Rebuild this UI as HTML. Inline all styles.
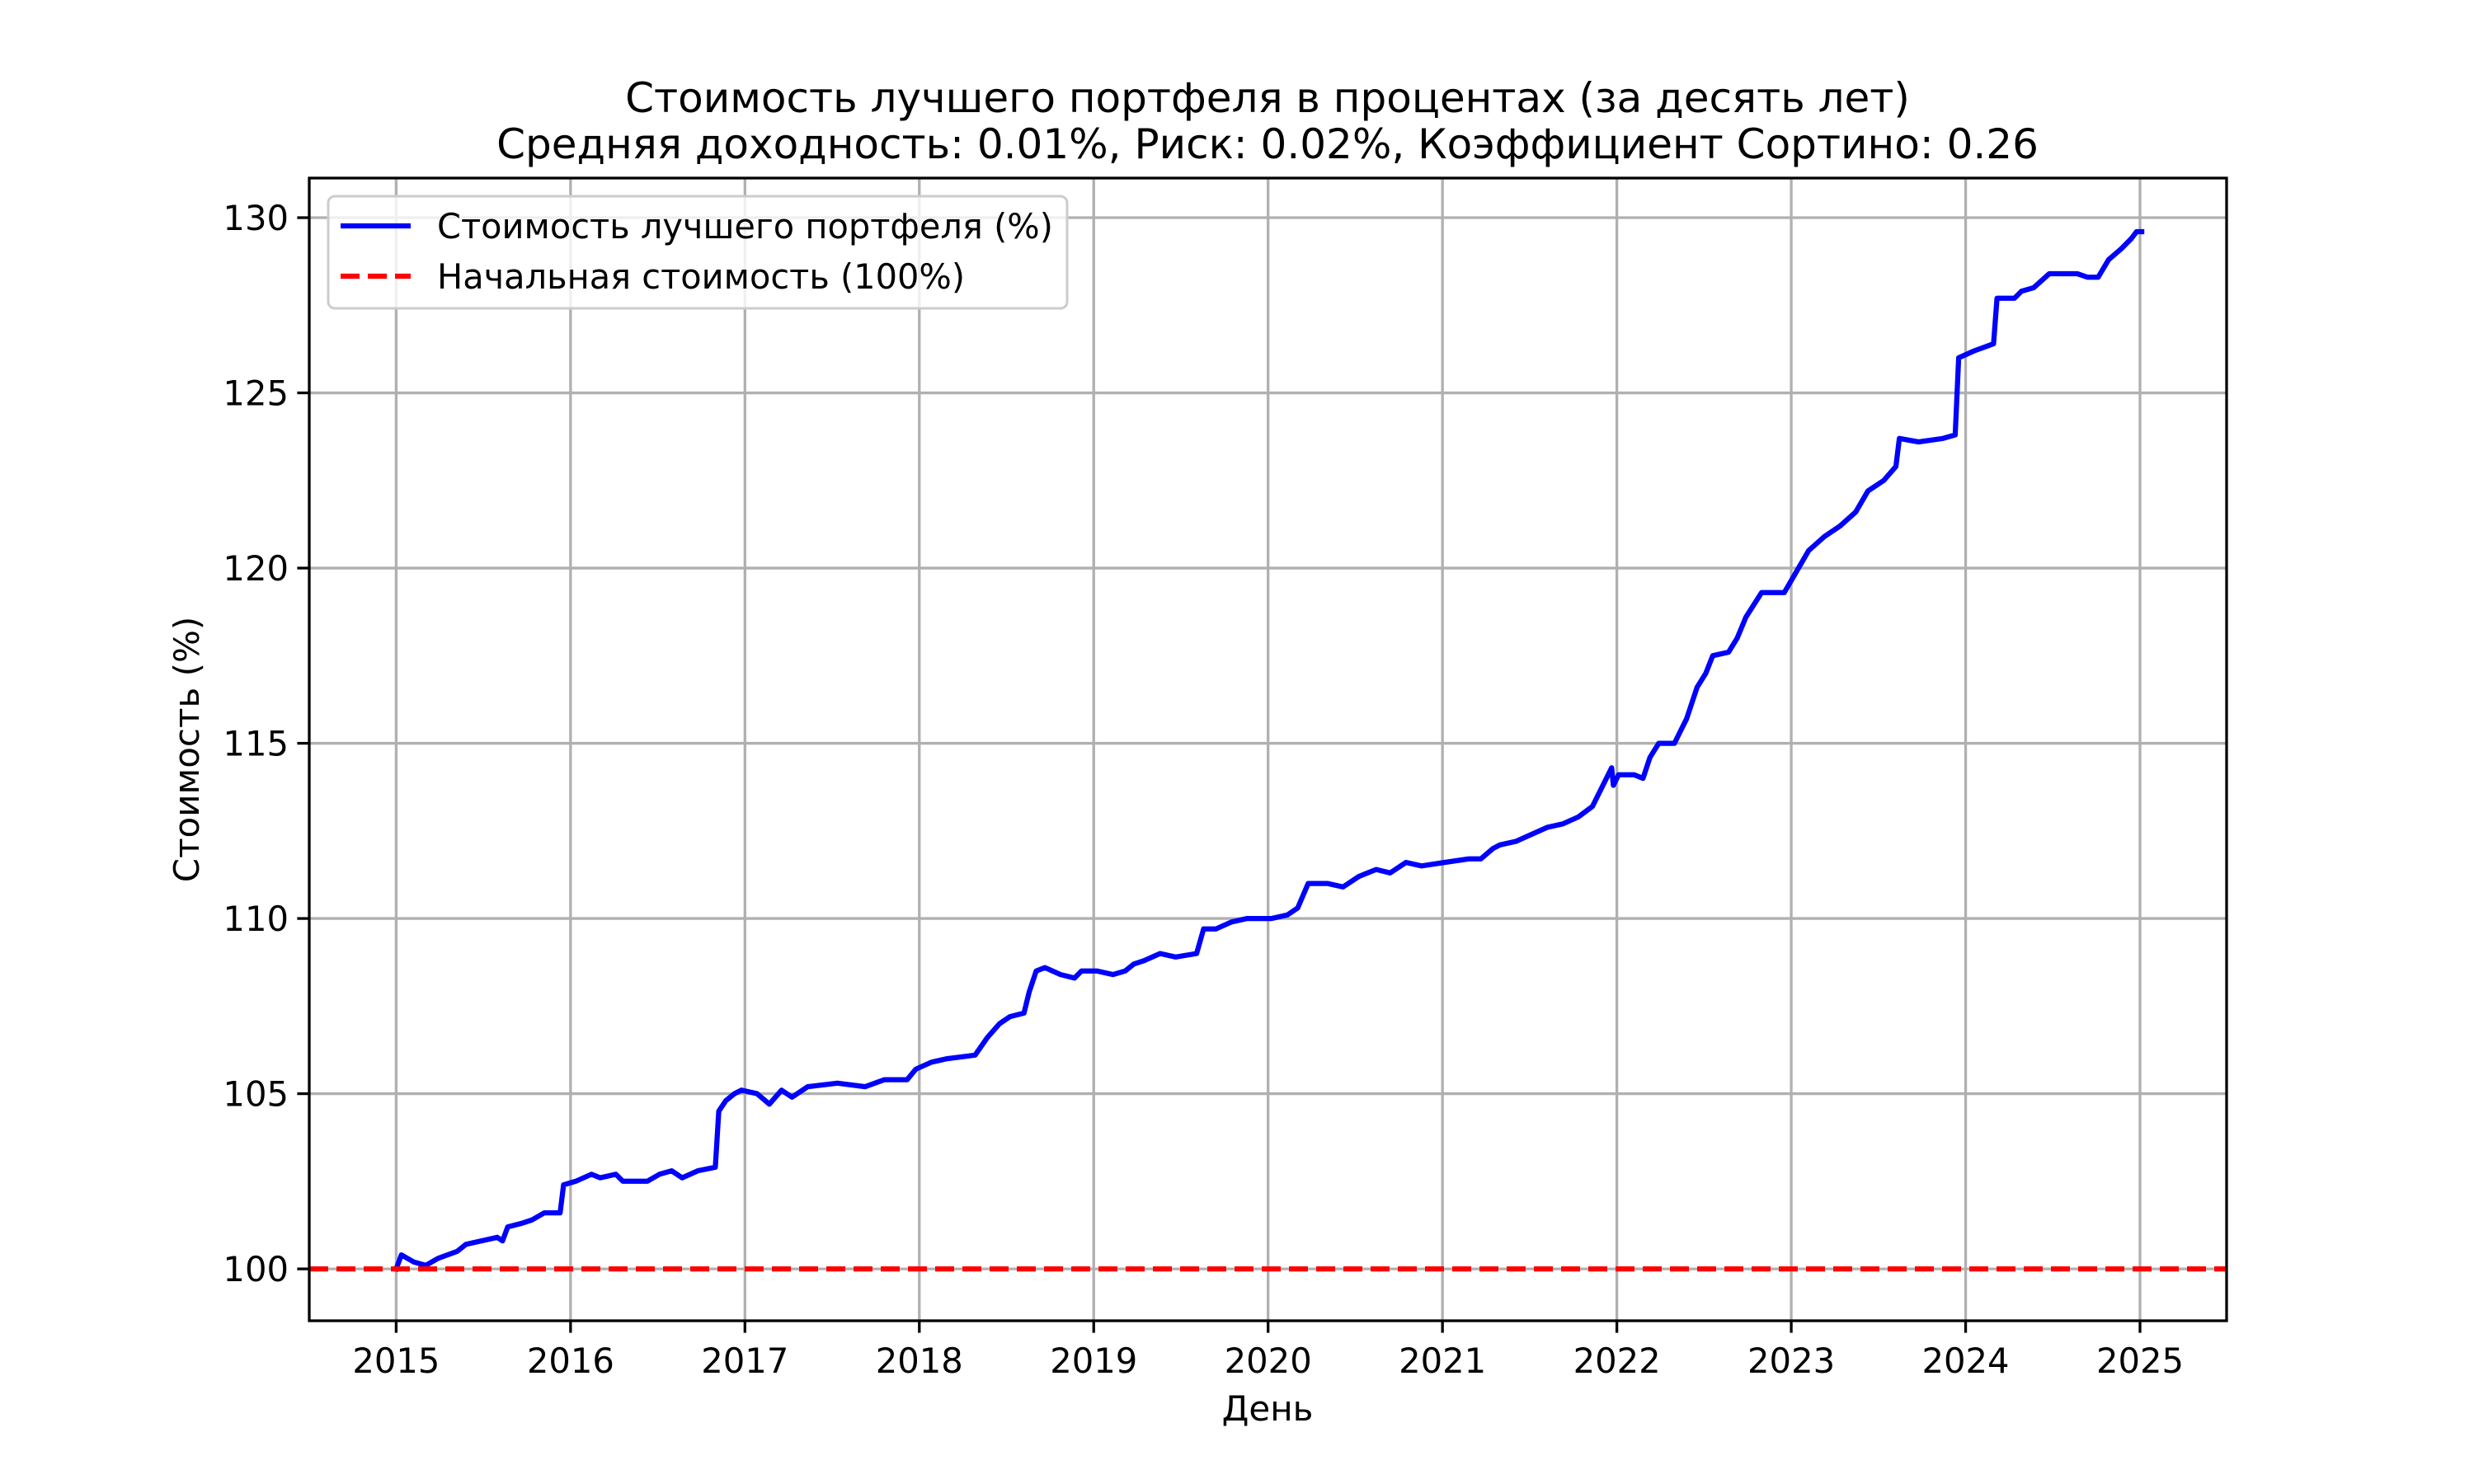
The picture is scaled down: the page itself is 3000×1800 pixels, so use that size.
<!DOCTYPE html>
<html><head><meta charset="utf-8"><style>
html,body{margin:0;padding:0;background:#fff}
svg{display:block}
text{font-family:"DejaVu Sans","Liberation Sans",sans-serif;fill:#000}
</style></head><body>
<svg id="chart" width="3000" height="1800" viewBox="0 0 3000 1800" xmlns="http://www.w3.org/2000/svg">
<rect width="3000" height="1800" fill="#fff"/>
<text x="1537" y="136" font-size="50" text-anchor="middle">Стоимость лучшего портфеля в процентах (за десять лет)</text>
<text x="1537" y="192" font-size="50" text-anchor="middle">Средняя доходность: 0.01%, Риск: 0.02%, Коэффициент Сортино: 0.26</text>
<g id="grid"></g>
<g id="series"></g>
<rect x="375" y="216" width="2325" height="1386" fill="none" stroke="#000" stroke-width="3.3"/>
<g id="ticks"></g>
<text x="1537" y="1723" font-size="42" text-anchor="middle">День</text>
<text x="0" y="0" font-size="42" text-anchor="middle" transform="translate(241,909) rotate(-90)">Стоимость (%)</text>
<g>
<rect x="398" y="238" width="896" height="136" rx="8" fill="#fff" fill-opacity="0.8" stroke="#ccc" stroke-width="3"/>
<line x1="413" y1="274" x2="498" y2="274" stroke="#0000ff" stroke-width="6.25"/>
<text x="530" y="289" font-size="41.5">Стоимость лучшего портфеля (%)</text>
<line x1="413" y1="335" x2="498" y2="335" stroke="#ff0000" stroke-width="6.25" stroke-dasharray="23,10"/>
<text x="530" y="350" font-size="41.5">Начальная стоимость (100%)</text>
</g>
</svg>
<script>
const yearOffsets=[0.00,0.03,0.10,0.17,0.24,0.35,0.40,0.49,0.58,0.61,0.64,0.72,0.78,0.85,0.94,0.96,1.03,1.12,1.17,1.26,1.30,1.44,1.51,1.58,1.64,1.73,1.83,1.85,1.89,1.94,1.98,2.07,2.14,2.21,2.27,2.36,2.53,2.69,2.80,2.93,2.98,3.07,3.16,3.32,3.39,3.46,3.52,3.60,3.63,3.67,3.72,3.81,3.89,3.93,4.02,4.11,4.18,4.23,4.29,4.38,4.47,4.59,4.63,4.70,4.79,4.88,5.02,5.11,5.17,5.23,5.34,5.43,5.52,5.62,5.70,5.79,5.88,6.01,6.15,6.22,6.29,6.33,6.42,6.51,6.60,6.69,6.78,6.86,6.92,6.97,6.98,7.01,7.10,7.15,7.19,7.24,7.33,7.40,7.46,7.51,7.55,7.64,7.69,7.74,7.83,7.96,8.03,8.10,8.19,8.28,8.37,8.44,8.53,8.60,8.62,8.73,8.87,8.94,8.96,9.05,9.16,9.18,9.28,9.32,9.39,9.48,9.64,9.70,9.76,9.82,9.89,9.95,9.98,10.01];
const values=[100.0,100.4,100.2,100.1,100.3,100.5,100.7,100.8,100.9,100.8,101.2,101.3,101.4,101.6,101.6,102.4,102.5,102.7,102.6,102.7,102.5,102.5,102.7,102.8,102.6,102.8,102.9,104.5,104.8,105.0,105.1,105.0,104.7,105.1,104.9,105.2,105.3,105.2,105.4,105.4,105.7,105.9,106.0,106.1,106.6,107.0,107.2,107.3,107.9,108.5,108.6,108.4,108.3,108.5,108.5,108.4,108.5,108.7,108.8,109.0,108.9,109.0,109.7,109.7,109.9,110.0,110.0,110.1,110.3,111.0,111.0,110.9,111.2,111.4,111.3,111.6,111.5,111.6,111.7,111.7,112.0,112.1,112.2,112.4,112.6,112.7,112.9,113.2,113.8,114.3,113.8,114.1,114.1,114.0,114.6,115.0,115.0,115.7,116.6,117.0,117.5,117.6,118.0,118.6,119.3,119.3,119.9,120.5,120.9,121.2,121.6,122.2,122.5,122.9,123.7,123.6,123.7,123.8,126.0,126.2,126.4,127.7,127.7,127.9,128.0,128.4,128.4,128.3,128.3,128.8,129.1,129.4,129.6,129.6];
const baseline=100;
const xTickYears=[2015,2016,2017,2018,2019,2020,2021,2022,2023,2024,2025];
const yTickValues=[100,105,110,115,120,125,130];

const NS="http://www.w3.org/2000/svg";
const X0=375,X1=2700,Y0=216,Y1=1602;
const yMin=98.52,yMax=131.13;
function xScale(year){return 480.4+(year-2015)*211.46;}
function yScale(v){return Y1-(v-yMin)/(yMax-yMin)*(Y1-Y0);}
function mk(tag,attrs,parent){const e=document.createElementNS(NS,tag);for(const k in attrs)e.setAttribute(k,attrs[k]);parent.appendChild(e);return e;}
const grid=document.getElementById('grid'),ticks=document.getElementById('ticks'),series=document.getElementById('series');
xTickYears.forEach(y=>{
  const x=xScale(y);
  const g=mk('line',{x1:x,x2:x,y1:Y0,y2:Y1,stroke:'#b0b0b0','stroke-width':3.3},grid);
  
  
  const t=mk('line',{x1:x,x2:x,y1:Y1,y2:Y1+14.6,stroke:'#000','stroke-width':3.3},ticks);
  
  
  const l=mk('text',{x:x,y:Y1+63,'font-size':41.7,'text-anchor':'middle'},ticks);
  l.textContent=y;
  
  
});
yTickValues.forEach(v=>{
  const y=yScale(v);
  const g=mk('line',{x1:X0,x2:X1,y1:y,y2:y,stroke:'#b0b0b0','stroke-width':3.3},grid);
  
  
  const t=mk('line',{x1:X0-14.6,x2:X0,y1:y,y2:y,stroke:'#000','stroke-width':3.3},ticks);
  
  
  const l=mk('text',{x:X0-25,y:y+15,'font-size':41.7,'text-anchor':'end'},ticks);
  l.textContent=v;
  
  
});
const pts=yearOffsets.map((o,i)=>xScale(2015+o).toFixed(1)+','+yScale(values[i]).toFixed(1)).join(' ');
const line=mk('polyline',{points:pts,fill:'none',stroke:'#0000ff','stroke-width':6.25,'stroke-linejoin':'round','stroke-linecap':'square'},series);


const by=yScale(baseline);
const base=mk('line',{x1:X0,x2:X1,y1:by,y2:by,stroke:'#ff0000','stroke-width':6.25,'stroke-dasharray':'23,10'},series);


</script>
</body></html>
